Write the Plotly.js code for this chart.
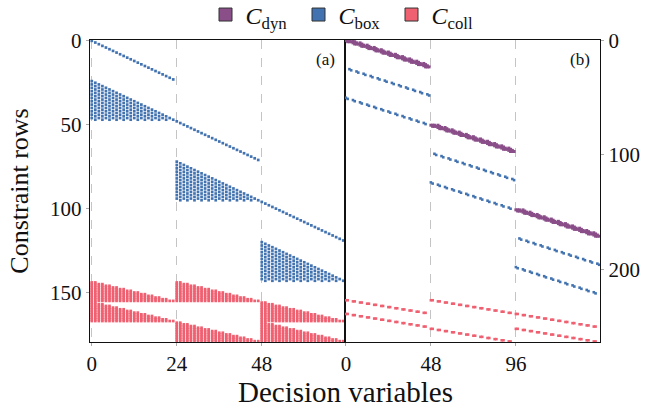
<!DOCTYPE html>
<html><head><meta charset="utf-8">
<script src="https://cdn.plot.ly/plotly-3.0.1.min.js"></script>
<style>html,body{margin:0;padding:0;background:#fff}</style>
</head><body><div id="chart" style="width:660px;height:407px"></div>
<script>
// ---------- data: sparsity structure ----------
// Panel (a): 3 agents, 24 decision variables each (12 steps x 2 dims)
const agentsA = [0, 1, 2];
const colsPerAgentA = 24;
const stepsA = 12;
const boxIdentityStartA = [0, 48, 96];      // first row of identity box blocks
const boxTriangleStartA = [24, 72, 120];    // first row of triangular box blocks
const collPairsA = [[0, 1], [0, 2], [1, 2]];
const collStartA = [144, 156, 168];         // first row of each collision group

// Panel (b): 3 agents, 48 decision variables each
const agentsB = [0, 1, 2];
const colsPerAgentB = 48;
const stepsB = 12;
const dynStartB = [0, 74, 148];
const boxInputStartB = [25, 99, 173];
const boxStateStartB = [50, 124, 198];
const collPairsB = [[0, 1], [0, 2], [1, 2]];
const collStartB = [227, 239, 252];

const xTicksA = [0, 24, 48];
const xTicksB = [0, 48, 96];
const yTicksA = [0, 50, 100, 150];
const yTicksB = [0, 100, 200];
const legendNames = ['<i>C</i><sub>dyn</sub>', '<i>C</i><sub>box</sub>', '<i>C</i><sub>coll</sub>'];

// ---------- expand structure into nonzero entries ----------
const aBoxX = [], aBoxY = [], aCollX = [], aCollY = [];
agentsA.forEach(a => {
  const c0 = a * colsPerAgentA;
  for (let k = 0; k < colsPerAgentA; k++) { aBoxX.push(c0 + k); aBoxY.push(boxIdentityStartA[a] + k); }
  for (let t = 0; t < stepsA; t++) for (let d = 0; d < 2; d++)
    for (let s = 0; s <= t; s++) { aBoxX.push(c0 + 2 * s + d); aBoxY.push(boxTriangleStartA[a] + 2 * t + d); }
});
collPairsA.forEach((pair, p) => {
  pair.forEach(a => {
    const c0 = a * colsPerAgentA;
    for (let t = 0; t < stepsA; t++)
      for (let j = 0; j <= 2 * t + 1; j++) { aCollX.push(c0 + j); aCollY.push(collStartA[p] + t); }
  });
});

const bDynX = [], bDynY = [], bBoxX = [], bBoxY = [], bCollX = [], bCollY = [];
agentsB.forEach(a => {
  const c0 = a * colsPerAgentB;
  for (let t = 0; t < stepsB; t++) for (let d = 0; d < 2; d++) {
    [4 * t + d, 4 * t + 1 + d, 4 * t + 2 + d, 4 * t + 4 + d].forEach(c => {
      if (c < colsPerAgentB) { bDynX.push(c0 + c); bDynY.push(dynStartB[a] + 2 * t + d); }
    });
    bBoxX.push(c0 + 4 * t + 2 + d); bBoxY.push(boxInputStartB[a] + 2 * t + d);
    bBoxX.push(c0 + 4 * t + d); bBoxY.push(boxStateStartB[a] + 2 * t + d);
  }
});
collPairsB.forEach((pair, p) => {
  pair.forEach(a => {
    const c0 = a * colsPerAgentB;
    for (let t = 0; t < stepsB; t++) for (let d = 0; d < 2; d++) {
      bCollX.push(c0 + 4 * t + d); bCollY.push(collStartB[p] + t);
    }
  });
});

// ---------- styling ----------
const cDyn = '#8a4e89', cBox = '#4273b0', cColl = '#ef6071';
const serif = "'Liberation Serif', 'Times New Roman', serif";
const msA = 2.7, msB = 2.6;

function pts(x, y, color, size, xa, ya) {
  return { type: 'scatter', mode: 'markers', x: x, y: y, xaxis: xa, yaxis: ya,
    marker: { symbol: 'square', size: size, color: color, line: { width: 0 } },
    showlegend: false, hoverinfo: 'skip' };
}
function leg(name, color) {
  return { type: 'scatter', mode: 'markers', x: [null], y: [null], name: name,
    marker: { symbol: 'square', size: 13, color: color, line: { width: 1, color: '#333' } } };
}

const traces = [
  pts(aCollX, aCollY, cColl, msA, 'x', 'y'),
  pts(aBoxX, aBoxY, cBox, msA, 'x', 'y'),
  pts(bCollX, bCollY, cColl, msB, 'x2', 'y2'),
  pts(bBoxX, bBoxY, cBox, msB, 'x2', 'y2'),
  pts(bDynX, bDynY, cDyn, 3.0, 'x2', 'y2'),
  leg(legendNames[0], cDyn), leg(legendNames[1], cBox), leg(legendNames[2], cColl)
];

const axLine = { showline: true, linecolor: '#111', linewidth: 1.2, mirror: true, zeroline: false };
const layout = {
  width: 660, height: 407,
  margin: { l: 90, r: 60, t: 40, b: 65, autoexpand: false },
  paper_bgcolor: '#fff', plot_bgcolor: '#fff',
  font: { family: serif, size: 21, color: '#111' },
  showlegend: true,
  legend: { orientation: 'h', x: 0.5, xanchor: 'center', y: 1.083, yanchor: 'middle',
    bgcolor: 'rgba(0,0,0,0)', font: { family: serif, size: 24 }, itemwidth: 30,
    entrywidth: 48, entrywidthmode: 'pixels' },
  xaxis: Object.assign({ domain: [0, 0.5], range: [-0.5, 71.5], tickvals: xTicksA,
    showgrid: true, gridcolor: '#c4c4c4', griddash: 'dash', gridwidth: 1,
    ticks: 'outside', ticklen: 3, tickcolor: '#aaa', tickfont: { size: 21 } }, axLine),
  yaxis: Object.assign({ domain: [0, 1], range: [179.5, -0.5], tickvals: yTicksA,
    showgrid: false, ticks: 'outside', ticklen: 3, tickcolor: '#aaa', tickfont: { size: 21 },
    title: { text: 'Constraint rows', font: { size: 26 }, standoff: 14 } }, axLine),
  xaxis2: Object.assign({ domain: [0.5, 1], range: [-0.5, 143.5], tickvals: xTicksB, anchor: 'y2',
    showgrid: true, gridcolor: '#c4c4c4', griddash: 'dash', gridwidth: 1,
    ticks: 'outside', ticklen: 3, tickcolor: '#aaa', tickfont: { size: 21 } }, axLine),
  yaxis2: Object.assign({ domain: [0, 1], range: [263.5, -0.5], tickvals: yTicksB, anchor: 'x2',
    side: 'right', showgrid: false, ticks: 'outside', ticklen: 3, tickcolor: '#aaa',
    tickfont: { size: 21 } }, axLine),
  annotations: [
    { text: 'Decision variables', xref: 'paper', yref: 'paper', x: 0.5, y: -0.105,
      xanchor: 'center', yanchor: 'top', showarrow: false, font: { size: 29 } },
    { text: '(a)', xref: 'x domain', yref: 'y domain', x: 0.97, y: 0.975,
      xanchor: 'right', yanchor: 'top', showarrow: false, font: { size: 17 } },
    { text: '(b)', xref: 'x2 domain', yref: 'y2 domain', x: 0.97, y: 0.975,
      xanchor: 'right', yanchor: 'top', showarrow: false, font: { size: 17 } }
  ]
};

Plotly.newPlot('chart', traces, layout, { staticPlot: true, displayModeBar: false });
</script></body></html>
